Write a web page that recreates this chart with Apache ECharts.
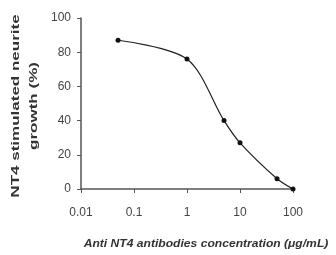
<!DOCTYPE html>
<html>
<head>
<meta charset="utf-8">
<script src="https://cdn.jsdelivr.net/npm/echarts@6/dist/echarts.min.js"></script>
<style>
  html, body { margin: 0; padding: 0; background: #fff; }
  #main { width: 336px; height: 255px; }
</style>
</head>
<body>
<div id="main"></div>
<script>
// antibody concentration (ug/mL) and NT4 stimulated growth (%)
var concentration = [0.05, 1, 5, 10, 50, 100];
var growth = [87, 76, 40, 27, 6, 0];
var yTitle = 'NT4 stimulated neurite\ngrowth (%)';
var xTitle = 'Anti NT4 antibodies concentration (\u03bcg/mL)';

var pts = [];
for (var i = 0; i < concentration.length; i++) {
    pts.push([concentration[i], growth[i]]);
}

var myChart = echarts.init(document.getElementById('main'));
var axisColor = '#555';
var option = {
    animation: false,
    grid: { left: 81, top: 18, right: 43, bottom: 66 },
    xAxis: {
        type: 'log',
        logBase: 10,
        min: 0.01,
        max: 100,
        splitLine: { show: false },
        minorTick: { show: false },
        axisLine: { lineStyle: { color: axisColor, width: 1.5 } },
        axisTick: { inside: false, length: 4, lineStyle: { color: axisColor } },
        axisLabel: {
            margin: 18,
            color: '#444',
            fontSize: 12,
            fontFamily: 'Liberation Sans, Arial, sans-serif',
            formatter: function (v) { return String(v); }
        }
    },
    yAxis: {
        type: 'value',
        min: 0,
        max: 100,
        interval: 20,
        splitLine: { show: false },
        axisLine: { show: true, lineStyle: { color: axisColor, width: 1.5 } },
        axisTick: { show: true, inside: false, length: 4, lineStyle: { color: axisColor } },
        axisLabel: {
            margin: 10,
            color: '#444',
            fontSize: 12,
            fontFamily: 'Liberation Sans, Arial, sans-serif'
        }
    },
    graphic: [
        {
            type: 'text',
            x: 25,
            y: 106,
            rotation: Math.PI / 2,
            scaleX: 1.7,
            style: {
                text: yTitle,
                font: 'bold 10px "Liberation Sans", Arial, sans-serif',
                fill: '#333',
                lineHeight: 18,
                textAlign: 'center',
                textVerticalAlign: 'middle'
            }
        },
        {
            type: 'text',
            x: 206,
            y: 244,
            scaleX: 1.1,
            style: {
                text: xTitle,
                font: 'italic bold 11px "Liberation Sans", Arial, sans-serif',
                fill: '#333',
                textAlign: 'center',
                textVerticalAlign: 'middle'
            }
        }
    ],
    series: [
        {
            type: 'line',
            data: pts,
            smooth: 0.3,
            symbol: 'circle',
            symbolSize: 5,
            itemStyle: { color: '#111' },
            lineStyle: { color: '#222', width: 1.2 }
        }
    ]
};
myChart.setOption(option);
</script>
</body>
</html>
